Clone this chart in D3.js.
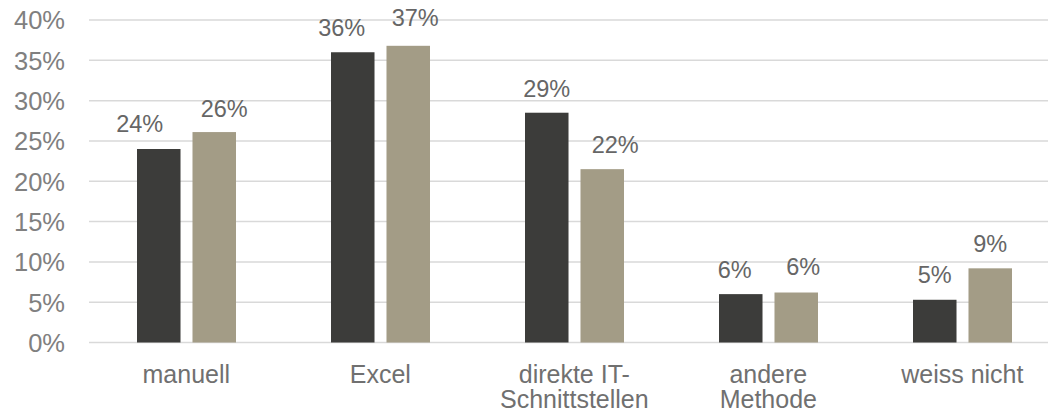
<!DOCTYPE html>
<html>
<head>
<meta charset="utf-8">
<script src="https://cdn.jsdelivr.net/npm/d3@7"></script>
<style>
  html, body { margin: 0; padding: 0; background: #ffffff; }
  svg { display: block; }
  text { font-family: "Liberation Sans", Arial, sans-serif; }
</style>
</head>
<body>
<svg id="chart" width="1048" height="416"></svg>
<script>
// ---- data ----
const categories = ["manuell", "Excel", "direkte IT-\nSchnittstellen", "andere\nMethode", "weiss nicht"];
const seriesNames = ["Serie 1", "Serie 2"];
const series1 = [24.0, 36.0, 28.5, 6.0, 5.3];
const series2 = [26.1, 36.8, 21.5, 6.2, 9.2];
const series1Labels = ["24%", "36%", "29%", "6%", "5%"];
const series2Labels = ["26%", "37%", "22%", "6%", "9%"];
const yTicks = [0, 5, 10, 15, 20, 25, 30, 35, 40];

// ---- layout / style ----
const colors = ["#3c3c3a", "#a39c86"];
const labelNudgeX = [[-19, 10], [-11, 7], [0, 13], [-6, 7], [0, 0]];
const labelNudgeY = [[-1, 1], [0, -3], [1, 0], [0, -1], [0, 0]];

const svg = d3.select("#chart");
const x0 = d3.scaleBand().domain(d3.range(categories.length)).range([89.3, 1059.3]).padding(0);
const x1 = d3.scaleBand().domain([0, 1]).range([47.7, 146.7]).paddingInner(0.216).paddingOuter(0);
const y = d3.scaleLinear().domain([0, 40]).range([342.5, 20]);

// gridlines
svg.append("g").selectAll("line").data(yTicks).join("line")
  .attr("x1", 89).attr("x2", 1048)
  .attr("y1", d => y(d)).attr("y2", d => y(d))
  .attr("stroke", "#d9d9d9").attr("stroke-width", 1.5);

// y axis labels
const yAxis = d3.axisLeft(y).tickValues(yTicks).tickFormat(d => d + "%").tickSize(0).tickPadding(0);
const ya = svg.append("g").attr("transform", "translate(65,0)").call(yAxis);
ya.select(".domain").remove();
ya.selectAll("text")
  .attr("font-family", "'Liberation Sans', Arial, sans-serif")
  .attr("font-size", 25.5).attr("fill", "#808080").attr("dy", "0.35em");

// bars
const allSeries = [series1, series2];
const allLabels = [series1Labels, series2Labels];
const rows = [];
categories.forEach((c, i) => {
  allSeries.forEach((s, j) => rows.push({ i, j, v: s[i], label: allLabels[j][i] }));
});

svg.append("g").selectAll("rect").data(rows).join("rect")
  .attr("x", d => x0(d.i) + x1(d.j))
  .attr("y", d => y(d.v))
  .attr("width", x1.bandwidth())
  .attr("height", d => y(0) - y(d.v))
  .attr("fill", d => colors[d.j]);

// data labels
svg.append("g").selectAll("text").data(rows).join("text")
  .attr("x", d => x0(d.i) + x1(d.j) + x1.bandwidth() / 2 + labelNudgeX[d.i][d.j])
  .attr("y", d => y(d.v) - 16.5 + labelNudgeY[d.i][d.j])
  .attr("text-anchor", "middle")
  .attr("font-size", 23.5).attr("fill", "#666666")
  .text(d => d.label);

// category labels
const cat = svg.append("g").selectAll("text").data(categories).join("text")
  .attr("text-anchor", "middle")
  .attr("font-size", 25).attr("fill", "#707070")
  .attr("transform", (d, i) => `translate(${x0(i) + x0.bandwidth() / 2},382.5)`);
cat.each(function (d) {
  const t = d3.select(this);
  d.split("\n").forEach((line, k) => {
    t.append("tspan").attr("x", 0).attr("y", k * 25.5).text(line);
  });
});
</script>
</body>
</html>
